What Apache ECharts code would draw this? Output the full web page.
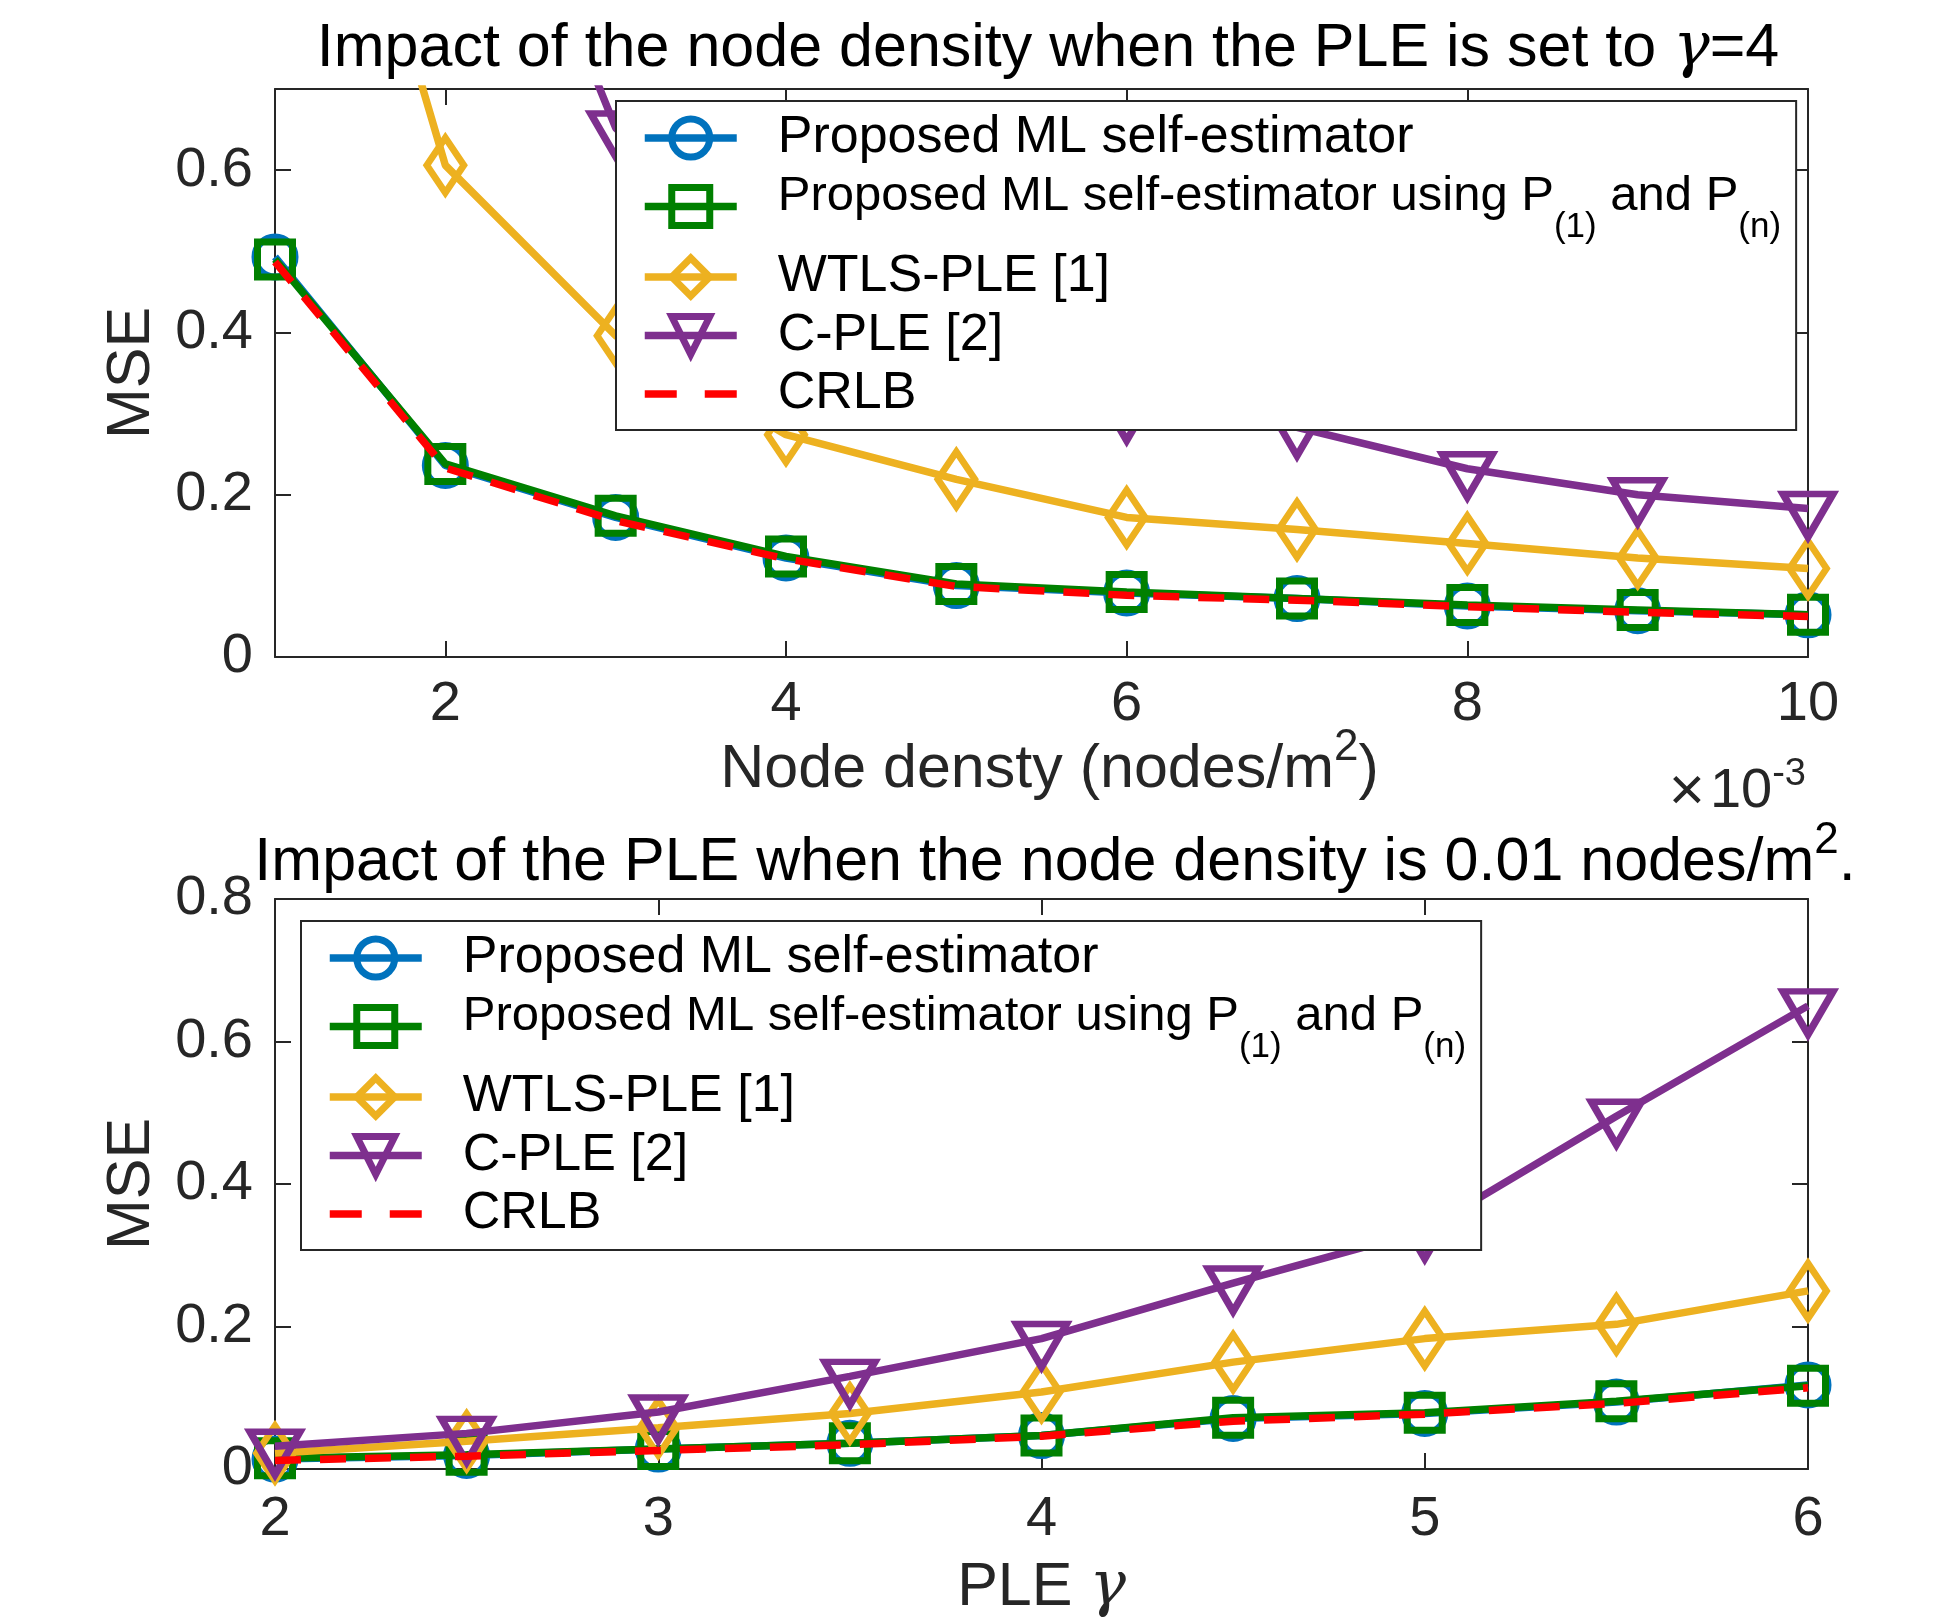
<!DOCTYPE html>
<html><head><meta charset="utf-8">
<script src="https://cdn.jsdelivr.net/npm/echarts@6/dist/echarts.min.js"></script>
<style>html,body{margin:0;padding:0;background:#fff}#c{width:1933px;height:1617px}</style>
</head><body><div id="c"></div>
<script>
// ---------- DATA ----------
// Top panel: node density (x 10^-3 nodes/m^2), PLE gamma = 4
const densityX   = [1, 2, 3, 4, 5, 6, 7, 8, 9, 10];
const topML      = [0.493, 0.236, 0.172, 0.122, 0.088, 0.079, 0.072, 0.063, 0.057, 0.052];
const topML1n    = [0.490, 0.238, 0.174, 0.124, 0.090, 0.080, 0.072, 0.064, 0.058, 0.052];
const topWTLS    = [1.32, 0.606, 0.396, 0.274, 0.219, 0.172, 0.157, 0.140, 0.122, 0.109];
const topCPLE    = [2.00, 1.17, 0.652, 0.45, 0.36, 0.302, 0.283, 0.232, 0.200, 0.183];
const topCRLB    = [0.487, 0.233, 0.168, 0.121, 0.087, 0.076, 0.070, 0.062, 0.055, 0.050];
const topXTicks  = [2, 4, 6, 8, 10];
const topYTicks  = [0, 0.2, 0.4, 0.6];

// Bottom panel: PLE gamma, node density 0.01 nodes/m^2
const pleX       = [2, 2.5, 3, 3.5, 4, 4.5, 5, 5.5, 6];
const botML      = [0.014, 0.019, 0.028, 0.036, 0.047, 0.071, 0.078, 0.094, 0.118];
const botML1n    = [0.015, 0.020, 0.028, 0.036, 0.047, 0.072, 0.079, 0.095, 0.117];
const botWTLS    = [0.022, 0.039, 0.058, 0.078, 0.108, 0.150, 0.183, 0.203, 0.250];
const botCPLE    = [0.032, 0.050, 0.080, 0.130, 0.183, 0.261, 0.335, 0.495, 0.650];
const botCRLB    = [0.012, 0.018, 0.026, 0.034, 0.046, 0.067, 0.077, 0.092, 0.114];

const seriesNames = ['Proposed ML self-estimator',
                     'Proposed ML self-estimator using P(1) and P(n)',
                     'WTLS-PLE [1]', 'C-PLE [2]', 'CRLB'];

// ---------- STYLE ----------
const FONT = 'Liberation Sans, Arial, Helvetica, sans-serif';
const SERIF = 'DejaVu Serif, Liberation Serif, serif';
const AX = '#262626';
const colors  = ['#0072BD', '#008000', '#EDB120', '#7E2F8E', '#FF0000'];
const symbols = ['circle', 'rect', 'diamond', 'triangle', 'none'];
const sizes   = [40, 35, [37, 55], [50, 43], 0];

function mkSeries(i, xs, ys, g) {
  const s = {
    name: seriesNames[i], type: 'line',
    xAxisIndex: g * 2, yAxisIndex: g * 2,
    data: xs.map((x, k) => [x, ys[k]]),
    symbol: symbols[i], symbolSize: sizes[i],
    showAllSymbol: true,
    lineStyle: {color: colors[i], width: 7.5, type: i === 4 ? [26, 19] : 'solid', cap: 'butt'},
    itemStyle: {color: 'rgba(0,0,0,0)', borderColor: colors[i], borderWidth: 7},
    emphasis: {disabled: true},
    clip: true, z: 2 + i * 0.01
  };
  if (i === 3) { s.symbolRotate = 180; s.symbolOffset = [0, 7]; }
  return s;
}

const tickStyle = {inside: true, length: 16, lineStyle: {color: AX, width: 2}};
const lineAx = {onZero: false, lineStyle: {color: AX, width: 2}};
const lblStyle = {fontSize: 56, fontFamily: FONT, color: AX};

function xAx(g, min, max, ticks, margin, extra) {
  return Object.assign({
    type: 'value', gridIndex: g, min: min, max: max,
    axisLine: lineAx, splitLine: {show: false},
    axisTick: Object.assign({customValues: ticks}, tickStyle),
    axisLabel: Object.assign({customValues: ticks, margin: margin}, lblStyle)
  }, extra || {});
}
function yAx(g, min, max, ticks, extra) {
  return Object.assign({
    type: 'value', gridIndex: g, min: min, max: max,
    axisLine: lineAx, splitLine: {show: false},
    axisTick: Object.assign({customValues: ticks}, tickStyle),
    axisLabel: Object.assign({customValues: ticks, margin: 22}, lblStyle)
  }, extra || {});
}
const mirror = (pos) => ({position: pos, axisLabel: {show: false}});

const nameRich = {
  m: {fontSize: 61, fontFamily: FONT, color: AX, lineHeight: 61, padding: [14, 0, 0, 0], verticalAlign: 'top'},
  s: {fontSize: 44, fontFamily: FONT, color: AX, lineHeight: 44, verticalAlign: 'top'},
  p: {fontSize: 61, fontFamily: FONT, color: AX, lineHeight: 61, verticalAlign: 'top'},
  g: {fontSize: 61, fontFamily: SERIF, fontStyle: 'italic', color: AX, lineHeight: 61, verticalAlign: 'top'}
};

const legendRich = {
  m:  {fontSize: 52, fontFamily: FONT, color: '#000', lineHeight: 52, height: 52, verticalAlign: 'top'},
  m2: {fontSize: 49, fontFamily: FONT, color: '#000', lineHeight: 52, height: 52, verticalAlign: 'top'},
  s:  {fontSize: 35, fontFamily: FONT, color: '#000', lineHeight: 72, height: 35, padding: [39, 0, 0, 0], verticalAlign: 'top'}
};
function legendFmt(name) {
  if (name === seriesNames[1]) return '{m2|Proposed ML self-estimator using P}{s|(1)}{m2| and P}{s|(n)}';
  return '{m|' + name + '}';
}
function mkLegend(left, top) {
  return {
    orient: 'vertical', left: left, top: top,
    data: seriesNames.map((n, i) => i === 4
      ? {name: n, itemStyle: {opacity: 0}, lineStyle: {type: [32, 28]}}
      : {name: n}),
    itemWidth: 92, itemHeight: 47.5, itemGap: 6.5,
    padding: [11, 15, 10, 25],
    backgroundColor: '#fff', borderColor: AX, borderWidth: 2, borderRadius: 0,
    selectedMode: false,
    lineStyle: {width: 7.5},
    itemStyle: {borderWidth: 7},
    formatter: legendFmt,
    textStyle: {fontSize: 52, fontFamily: FONT, color: '#000', padding: [0, 0, 0, 36], rich: legendRich}
  };
}

const option = {
  animation: false,
  backgroundColor: '#fff',
  textStyle: {fontFamily: FONT},
  grid: [
    {left: 275, top: 89, width: 1533, height: 568, outerBoundsMode: 'none', containLabel: false},
    {left: 275, top: 899, width: 1533, height: 570, outerBoundsMode: 'none', containLabel: false}
  ],
  xAxis: [
    xAx(0, 1, 10, topXTicks, 20, {name: '{p|Node densty (nodes/m}{s|2}{p|)}', nameLocation: 'middle', nameGap: 69,
        nameMoveOverlap: false,
        nameTextStyle: {verticalAlign: 'top', padding: [0, 0, 0, 16], rich: Object.assign({}, nameRich, {p: nameRich.m})}}),
    xAx(0, 1, 10, topXTicks, 20, mirror('top')),
    xAx(1, 2, 6, null, 23, {interval: 1, name: '{p|PLE }{g|γ}', nameLocation: 'middle', nameGap: 89,
        nameMoveOverlap: false,
        nameTextStyle: {verticalAlign: 'top', rich: nameRich}}),
    xAx(1, 2, 6, null, 23, Object.assign({interval: 1}, mirror('top')))
  ],
  yAxis: [
    yAx(0, 0, 0.7, topYTicks, {name: 'MSE', nameLocation: 'middle', nameGap: 112, nameRotate: 90,
        nameTextStyle: {fontSize: 61, fontFamily: FONT, color: AX}}),
    yAx(0, 0, 0.7, topYTicks, mirror('right')),
    yAx(1, 0, 0.8, null, {interval: 0.2, name: 'MSE', nameLocation: 'middle', nameGap: 112, nameRotate: 90,
        nameTextStyle: {fontSize: 61, fontFamily: FONT, color: AX}}),
    yAx(1, 0, 0.8, null, Object.assign({interval: 0.2}, mirror('right')))
  ],
  legend: [mkLegend(616, 101), mkLegend(301, 921)],
  series: [
    mkSeries(0, densityX, topML, 0), mkSeries(1, densityX, topML1n, 0),
    mkSeries(2, densityX, topWTLS, 0), mkSeries(3, densityX, topCPLE, 0),
    mkSeries(4, densityX, topCRLB, 0),
    mkSeries(0, pleX, botML, 1), mkSeries(1, pleX, botML1n, 1),
    mkSeries(2, pleX, botWTLS, 1), mkSeries(3, pleX, botCPLE, 1),
    mkSeries(4, pleX, botCRLB, 1)
  ],
  graphic: [
    {type: 'text', x: 1048, y: 19, z: 10, style: {
      text: '{t|Impact of the node density when the PLE is set to }{g|γ}{t|=4}',
      align: 'center', verticalAlign: 'top',
      rich: {
        t: {fontSize: 61, fontFamily: FONT, fill: '#000', lineHeight: 61},
        g: {fontSize: 61, fontFamily: SERIF, fontStyle: 'italic', fill: '#000', lineHeight: 61}
      }}},
    {type: 'text', x: 1055, y: 819, z: 10, style: {
      text: '{t|Impact of the PLE when the node density is 0.01 nodes/m}{s|2}{t|.}',
      align: 'center', verticalAlign: 'top',
      rich: {
        t: {fontSize: 61, fontFamily: FONT, fill: '#000', lineHeight: 61, padding: [14, 0, 0, 0], verticalAlign: 'top'},
        s: {fontSize: 44, fontFamily: FONT, fill: '#000', lineHeight: 44, verticalAlign: 'top'}
      }}},
    {type: 'text', x: 1806, y: 756, z: 10, style: {
      text: '{x|×}{b|10}{e|-3}',
      align: 'right', verticalAlign: 'top',
      rich: {
        x: {fontSize: 62, fontFamily: FONT, fill: AX, lineHeight: 56, height: 56, padding: [9, 5, 0, 0], verticalAlign: 'top'},
        b: {fontSize: 56, fontFamily: FONT, fill: AX, lineHeight: 56, padding: [8, 0, 0, 0], verticalAlign: 'top'},
        e: {fontSize: 38, fontFamily: FONT, fill: AX, lineHeight: 38, verticalAlign: 'top'}
      }}}
  ]
};
const chart = echarts.init(document.getElementById('c'));
chart.setOption(option);
</script>
</body></html>
